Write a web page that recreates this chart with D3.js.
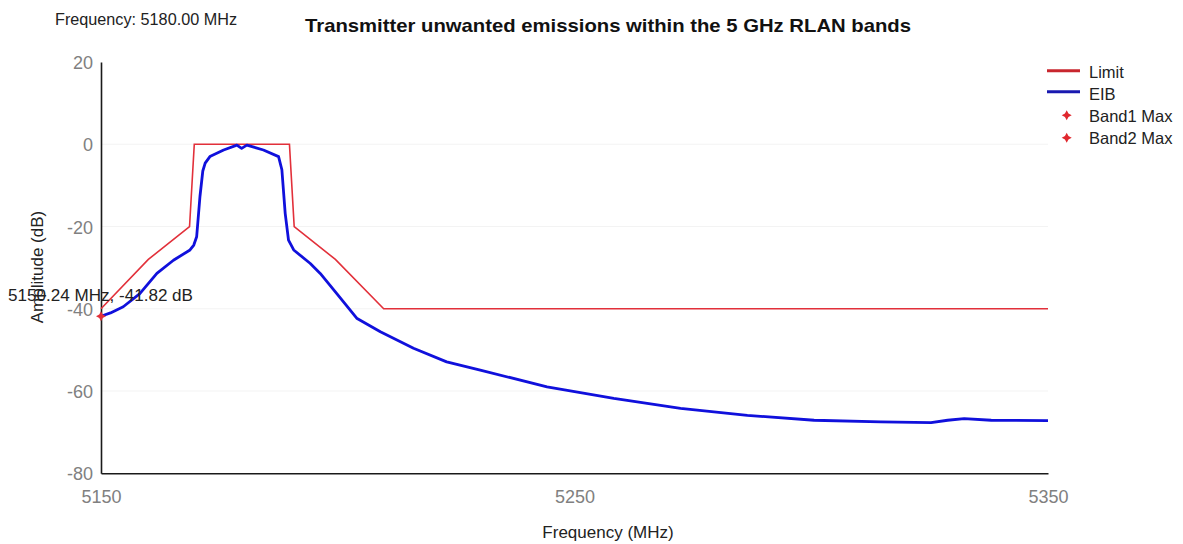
<!DOCTYPE html>
<html><head><meta charset="utf-8">
<script src="https://cdn.jsdelivr.net/npm/d3@7"></script>
<style>body{margin:0;background:#fff}svg{display:block}text{font-family:"Liberation Sans",Arial,sans-serif}</style>
</head><body>
<svg id="c" width="1183" height="544"></svg>
<script>
const xTicks = [5150, 5250, 5350];
const yTicks = [20, 0, -20, -40, -60, -80];
const limitFreq = [5150, 5160, 5168.7, 5169.7, 5189.8, 5190.8, 5199.5, 5209.7, 5350];
const limitDb   = [-40, -28, -20, 0, 0, -20, -28, -40, -40];
const eibFreq = [5150, 5152, 5154.7, 5158.2, 5161.8, 5165.3, 5168.8, 5169.6, 5170.2, 5170.9, 5171.5, 5172, 5173, 5175.9, 5178.7, 5179.7, 5180.8, 5184.3, 5187.5, 5188.2, 5188.9, 5189.6, 5190.7, 5194.2, 5196.3, 5199.8, 5204, 5209, 5216, 5223, 5230.1, 5244.2, 5258.3, 5272.4, 5286.5, 5300.6, 5314.7, 5325.3, 5328.8, 5332.3, 5338, 5350];
const eibDb   = [-41.82, -41.0, -39.5, -36.3, -31.4, -28.2, -25.7, -24.5, -22.5, -12.7, -6.5, -4.6, -3.0, -1.4, -0.2, -1.0, -0.2, -1.4, -3.0, -6.2, -16.8, -23.3, -25.7, -29.0, -31.4, -36.3, -42.3, -45.6, -49.6, -52.9, -54.9, -59.0, -61.8, -64.2, -65.9, -67.1, -67.5, -67.7, -67.1, -66.7, -67.1, -67.2];
const band1Max = [5150, -41.82];
const legendNames = ["Limit", "EIB", "Band1 Max", "Band2 Max"];
const titleText = "Transmitter unwanted emissions within the 5 GHz RLAN bands";
const freqText = "Frequency: 5180.00 MHz";
const markerText = "5150.24 MHz, -41.82 dB";

const RED = "#e2303a", BLUE = "#1010dc";
const svg = d3.select("#c");
const x = d3.scaleLinear().domain([5150, 5350]).range([101, 1048]);
const y = d3.scaleLinear().domain([-80, 20]).range([473.3, 62]);

// faint grid
svg.append("g").selectAll("line").data(yTicks.slice(1, -1)).join("line")
  .attr("x1", x(5150)).attr("x2", x(5350)).attr("y1", d => y(d)).attr("y2", d => y(d))
  .attr("stroke", "#f3f3f3").attr("stroke-width", 1);

// axes
const yAxis = svg.append("g").attr("transform", `translate(${x(5150)},0)`)
  .call(d3.axisLeft(y).tickValues(yTicks).tickSize(0).tickPadding(8).tickFormat(d => String(d)));
const xAxis = svg.append("g").attr("transform", `translate(0,${y(-80)})`)
  .call(d3.axisBottom(x).tickValues(xTicks).tickSize(0).tickPadding(17).tickFormat(d => String(d)));
[yAxis, xAxis].forEach(g => {
  g.select(".domain").attr("stroke", "#1a1a1a").attr("stroke-width", 1.6);
  g.selectAll("text").attr("fill", "#808080").attr("font-size", 18).attr("font-family", "Liberation Sans, Arial, sans-serif");
});
yAxis.selectAll("text").attr("dy", "0.36em");

const line = d3.line().x(d => x(d[0])).y(d => y(d[1]));
svg.append("path").datum(limitFreq.map((f, i) => [f, limitDb[i]]))
  .attr("d", line).attr("fill", "none").attr("stroke", RED).attr("stroke-width", 1.6);
svg.append("path").datum(eibFreq.map((f, i) => [f, eibDb[i]]))
  .attr("d", line).attr("fill", "none").attr("stroke", BLUE).attr("stroke-width", 2.8)
  .attr("stroke-linejoin", "round");

function starPath(cx, cy, r) {
  const s = r * 0.35;
  return `M${cx},${cy - r}L${cx + s},${cy - s}L${cx + r},${cy}L${cx + s},${cy + s}L${cx},${cy + r}L${cx - s},${cy + s}L${cx - r},${cy}L${cx - s},${cy - s}Z`;
}
svg.append("path").attr("d", starPath(x(band1Max[0]), y(band1Max[1]), 5)).attr("fill", RED);

// texts
function fitText(t, w) { t.attr("textLength", w).attr("lengthAdjust", "spacingAndGlyphs"); return t; }
fitText(svg.append("text").attr("x", 55).attr("y", 25).attr("font-size", 17).attr("fill", "#222").text(freqText), 182);
fitText(svg.append("text").attr("x", 305).attr("y", 32).attr("font-size", 18.5).attr("font-weight", "bold").attr("fill", "#111").text(titleText), 606);
svg.append("text").attr("x", 608).attr("y", 538).attr("text-anchor", "middle").attr("font-size", 17).attr("fill", "#222").text("Frequency (MHz)");
svg.append("text").attr("transform", "translate(43,267) rotate(-90)").attr("text-anchor", "middle").attr("font-size", 17).attr("fill", "#222").text("Amplitude (dB)");
fitText(svg.append("text").attr("x", 8).attr("y", 301).attr("font-size", 17).attr("fill", "#222").text(markerText), 185);

// legend
const lg = svg.append("g");
const baseY = [78.3, 100, 121.7, 144.3];
legendNames.forEach((n, i) => {
  const cy = baseY[i] - 6.5;
  if (i === 0) lg.append("line").attr("x1", 1047).attr("x2", 1080).attr("y1", 70.7).attr("y2", 70.7).attr("stroke", "#c8262e").attr("stroke-width", 3);
  else if (i === 1) lg.append("line").attr("x1", 1047).attr("x2", 1080).attr("y1", 91.7).attr("y2", 91.7).attr("stroke", "#1818b0").attr("stroke-width", 3);
  else lg.append("path").attr("d", starPath(1066.7, cy, 5)).attr("fill", "#e0282e");
  lg.append("text").attr("x", 1089).attr("y", baseY[i]).attr("font-size", 16.5).attr("fill", "#222").text(n);
});
</script>
</body></html>
